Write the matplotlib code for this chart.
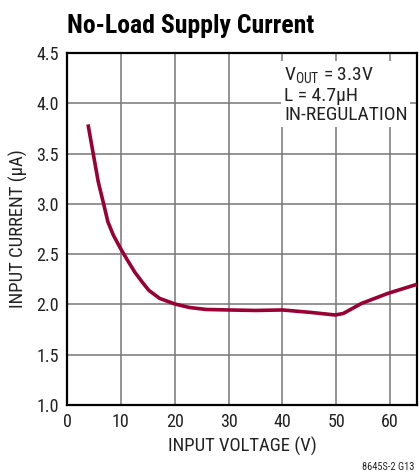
import matplotlib
matplotlib.use('Agg')
import matplotlib.pyplot as plt

plt.rcParams['font.family'] = ['Roboto Condensed', 'DejaVu Sans']
plt.rcParams['mathtext.fontset'] = 'custom'
plt.rcParams['mathtext.rm'] = 'Roboto Condensed'
plt.rcParams['mathtext.it'] = 'Roboto Condensed'

vin = [3.9, 4.9, 5.8, 6.8, 7.6, 8.6, 9.9, 11.0, 12.6, 14.0, 15.2, 17.2, 20,
       22.7, 25.8, 30, 35, 40, 45.4, 49.8, 51.3, 54.7, 59.6, 65]
iin = [3.79, 3.49, 3.22, 3.00, 2.82, 2.69, 2.56, 2.46, 2.32, 2.22, 2.14, 2.06, 2.005,
       1.97, 1.95, 1.945, 1.94, 1.945, 1.92, 1.895, 1.91, 2.01, 2.11, 2.20]

xticks = [0, 10, 20, 30, 40, 50, 60]
yticks = [1.0, 1.5, 2.0, 2.5, 3.0, 3.5, 4.0, 4.5]

fig = plt.figure(figsize=(4.19, 4.74), dpi=100)
ax = fig.add_axes([67/419, 1 - 405/474, 350/419, 352/474])

ax.plot(vin, iin, color='#990033', lw=2.6, solid_capstyle='butt',
        solid_joinstyle='round', zorder=3)

ax.set_xlim(0, 65)
ax.set_ylim(1.0, 4.5)
ax.set_xticks(xticks)
ax.set_yticks(yticks)
ax.set_yticklabels(['%.1f' % v for v in yticks])
ax.tick_params(length=0, labelsize=13, pad=6, colors='#222222')
ax.grid(True, color='#777777', lw=1.1)
for s in ax.spines.values():
    s.set_linewidth(1.6)
    s.set_color('black')

ax.set_xlabel('INPUT VOLTAGE (V)', fontsize=13.5, color='#222222', labelpad=4)
ax.set_ylabel('INPUT CURRENT (μA)', fontsize=13.5, color='#222222', labelpad=6)

ax.text(40.3, 4.38, 'V$_{\\mathrm{OUT}}$ = 3.3V\nL = 4.7μH\nIN-REGULATION',
        fontsize=14, color='#222222', va='top', ha='left', linespacing=1.12,
        bbox=dict(facecolor='white', edgecolor='none', pad=2), zorder=4)

fig.text(67/419, 1 - 33/474, 'No-Load Supply Current', fontsize=18.5,
         fontweight='bold', ha='left', va='baseline')
fig.text(414/419, 1 - 470/474, '8645S-2 G13', fontsize=7.5, ha='right',
         va='baseline', color='#222222')

fig.savefig('out.png', dpi=100)
